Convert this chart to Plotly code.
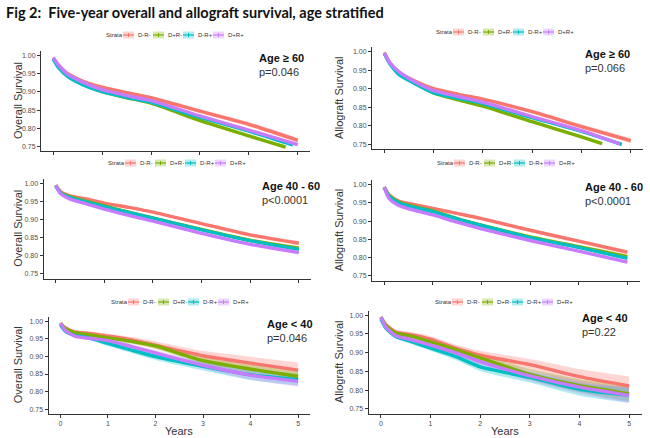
import plotly.graph_objects as go

# ---------------- data ----------------
STRATA = ["D-R-", "D+R-", "D-R+", "D+R+"]
COLORS = ["#F8766D", "#7CAE00", "#00BFC4", "#C77CFF"]
FILLS = ["rgba(248,118,109,0.30)", "rgba(124,174,0,0.30)",
         "rgba(0,191,196,0.30)", "rgba(199,124,255,0.30)"]
TIMES = [0, 0.1, 0.3, 0.6, 1, 1.5, 2, 3, 4, 5]
Y_TICKS = [0.75, 0.80, 0.85, 0.90, 0.95, 1.00]
X_TICKS = [0, 1, 2, 3, 4, 5]

# Overall survival, age >= 60
OS_60 = {
    "D-R-": [0.993, 0.975, 0.950, 0.930, 0.913, 0.898, 0.884, 0.847, 0.811, 0.767],
    "D+R-": [0.993, 0.972, 0.945, 0.921, 0.901, 0.884, 0.869, 0.821, 0.779, 0.748],
    "D-R+": [0.990, 0.968, 0.942, 0.920, 0.901, 0.885, 0.871, 0.830, 0.792, 0.754],
    "D+R+": [0.995, 0.975, 0.948, 0.927, 0.906, 0.890, 0.876, 0.834, 0.795, 0.755],
}
OS_60_END = {"D+R-": 4.75, "D-R+": 4.9}
OS_60_CI = {
    "D-R-": [0, 0.002, 0.002, 0.003, 0.003, 0.004, 0.004, 0.005, 0.006, 0.007],
    "D+R-": [0, 0.002, 0.002, 0.002, 0.003, 0.003, 0.003, 0.004, 0.004, 0.005],
    "D-R+": [0, 0.002, 0.002, 0.002, 0.003, 0.003, 0.003, 0.004, 0.004, 0.005],
    "D+R+": [0, 0.001, 0.002, 0.002, 0.002, 0.002, 0.003, 0.003, 0.004, 0.004],
}

# Allograft survival, age >= 60
AS_60 = {
    "D-R-": [0.997, 0.972, 0.945, 0.922, 0.900, 0.885, 0.872, 0.838, 0.798, 0.760],
    "D+R-": [0.997, 0.971, 0.943, 0.918, 0.889, 0.870, 0.853, 0.811, 0.770, 0.752],
    "D-R+": [0.995, 0.970, 0.938, 0.915, 0.889, 0.874, 0.860, 0.822, 0.785, 0.750],
    "D+R+": [0.997, 0.972, 0.945, 0.920, 0.895, 0.879, 0.864, 0.825, 0.787, 0.751],
}
AS_60_END = {"D+R-": 4.42, "D-R+": 4.82, "D+R+": 4.78}
AS_60_CI = OS_60_CI

# Overall survival, age 40 - 60
OS_40 = {
    "D-R-": [0.995, 0.978, 0.966, 0.958, 0.946, 0.934, 0.921, 0.889, 0.858, 0.835],
    "D+R-": [0.995, 0.975, 0.963, 0.952, 0.938, 0.921, 0.905, 0.873, 0.843, 0.821],
    "D-R+": [0.994, 0.974, 0.961, 0.950, 0.936, 0.920, 0.904, 0.872, 0.842, 0.818],
    "D+R+": [0.995, 0.972, 0.957, 0.945, 0.929, 0.912, 0.896, 0.862, 0.832, 0.809],
}
OS_40_CI = {
    "D-R-": [0, 0.002, 0.002, 0.002, 0.003, 0.003, 0.003, 0.004, 0.005, 0.006],
    "D+R-": [0, 0.002, 0.002, 0.002, 0.003, 0.003, 0.003, 0.004, 0.005, 0.006],
    "D-R+": [0, 0.001, 0.002, 0.002, 0.002, 0.002, 0.003, 0.003, 0.004, 0.004],
    "D+R+": [0, 0.001, 0.001, 0.002, 0.002, 0.002, 0.002, 0.003, 0.003, 0.004],
}

# Allograft survival, age 40 - 60
AS_40 = {
    "D-R-": [0.993, 0.972, 0.955, 0.946, 0.935, 0.921, 0.907, 0.875, 0.845, 0.815],
    "D+R-": [0.993, 0.970, 0.952, 0.940, 0.928, 0.907, 0.889, 0.857, 0.830, 0.803],
    "D-R+": [0.992, 0.968, 0.950, 0.938, 0.926, 0.906, 0.888, 0.855, 0.828, 0.798],
    "D+R+": [0.993, 0.962, 0.943, 0.930, 0.917, 0.897, 0.879, 0.847, 0.818, 0.788],
}
AS_40_CI = OS_40_CI

# Overall survival, age < 40
OS_U40 = {
    "D-R-": [0.995, 0.982, 0.970, 0.966, 0.958, 0.947, 0.932, 0.902, 0.881, 0.861],
    "D+R-": [0.995, 0.980, 0.968, 0.962, 0.953, 0.943, 0.930, 0.888, 0.864, 0.843],
    "D-R+": [0.990, 0.972, 0.960, 0.953, 0.937, 0.918, 0.900, 0.872, 0.848, 0.834],
    "D+R+": [0.995, 0.975, 0.958, 0.952, 0.945, 0.928, 0.910, 0.875, 0.847, 0.829],
}
OS_U40_CI = {
    "D-R-": [0, 0.004, 0.005, 0.006, 0.007, 0.009, 0.011, 0.014, 0.018, 0.022],
    "D+R-": [0, 0.003, 0.004, 0.005, 0.006, 0.007, 0.008, 0.010, 0.013, 0.015],
    "D-R+": [0, 0.004, 0.005, 0.006, 0.007, 0.008, 0.010, 0.012, 0.015, 0.017],
    "D+R+": [0, 0.003, 0.004, 0.005, 0.006, 0.007, 0.008, 0.010, 0.013, 0.015],
}

# Allograft survival, age < 40
AS_U40 = {
    "D-R-": [0.995, 0.975, 0.955, 0.948, 0.936, 0.912, 0.893, 0.868, 0.836, 0.811],
    "D+R-": [0.995, 0.972, 0.952, 0.944, 0.929, 0.908, 0.886, 0.842, 0.812, 0.790],
    "D-R+": [0.990, 0.965, 0.943, 0.930, 0.912, 0.890, 0.862, 0.834, 0.802, 0.786],
    "D+R+": [0.995, 0.968, 0.945, 0.935, 0.920, 0.900, 0.876, 0.838, 0.808, 0.786],
}
AS_U40_CI = {
    "D-R-": [0, 0.005, 0.006, 0.007, 0.008, 0.010, 0.012, 0.015, 0.020, 0.025],
    "D+R-": [0, 0.004, 0.005, 0.006, 0.007, 0.009, 0.011, 0.014, 0.017, 0.020],
    "D-R+": [0, 0.004, 0.005, 0.006, 0.007, 0.009, 0.011, 0.014, 0.017, 0.020],
    "D+R+": [0, 0.004, 0.005, 0.006, 0.007, 0.009, 0.011, 0.014, 0.017, 0.020],
}

PANELS = [
    dict(data=OS_60, ci=OS_60_CI, end=OS_60_END, ytitle="Overall Survival", age="Age ≥ 60", p="p=0.046"),
    dict(data=AS_60, ci=AS_60_CI, end=AS_60_END, ytitle="Allograft Survival", age="Age ≥ 60", p="p=0.066"),
    dict(data=OS_40, ci=OS_40_CI, end={}, ytitle="Overall Survival", age="Age 40 - 60", p="p<0.0001"),
    dict(data=AS_40, ci=AS_40_CI, end={}, ytitle="Allograft Survival", age="Age 40 - 60", p="p<0.0001"),
    dict(data=OS_U40, ci=OS_U40_CI, end={}, ytitle="Overall Survival", age="Age < 40", p="p=0.046"),
    dict(data=AS_U40, ci=AS_U40_CI, end={}, ytitle="Allograft Survival", age="Age < 40", p="p=0.22"),
]

# ---------------- layout geometry (pixels) ----------------
W, H = 650, 438
# (x0, x1, ytop, ybottom) plot area in pixels
BOXES = [
    (41, 310, 51, 151),
    (372, 643, 47, 149),
    (43.5, 311, 179, 278.5),
    (372, 639.5, 180, 280.5),
    (48.5, 310, 317, 413.5),
    (368.5, 641.5, 310.5, 413.5),
]
# legend: left edge of "Strata" text and vertical centre (pixels)
LEGEND_POS = [(104, 35), (434, 32), (106, 163), (435, 163), (109, 302), (433, 302)]
YTITLE_X = [18, 339, 18, 339, 18, 339]

def fx(px):
    return px / W

def fy(py):
    return 1 - py / H

fig = go.Figure()
annotations = []
shapes = []
layout = dict(
    width=W, height=H, margin=dict(l=0, r=0, t=0, b=0),
    paper_bgcolor="white", plot_bgcolor="white",
    font=dict(family="Liberation Sans, Arial, sans-serif", color="#4D4D4D"),
    showlegend=False,
)

for i, pan in enumerate(PANELS):
    n = i + 1
    xs = "x" if n == 1 else f"x{n}"
    ys = "y" if n == 1 else f"y{n}"
    for k, s in enumerate(STRATA):
        vals = pan["data"][s]
        ci = pan["ci"][s]
        t = list(TIMES)
        if s in pan["end"]:
            t[-1] = pan["end"][s]
        lo = [v - c for v, c in zip(vals, ci)]
        hi = [v + c for v, c in zip(vals, ci)]
        fig.add_trace(go.Scatter(x=t, y=lo, mode="lines",
                                 line=dict(width=0, color=COLORS[k], shape="spline", smoothing=0.6),
                                 xaxis=xs, yaxis=ys, hoverinfo="skip"))
        fig.add_trace(go.Scatter(x=t, y=hi, mode="lines",
                                 line=dict(width=0, color=COLORS[k], shape="spline", smoothing=0.6),
                                 fill="tonexty", fillcolor=FILLS[k],
                                 xaxis=xs, yaxis=ys, hoverinfo="skip"))
    for k, s in enumerate(STRATA):
        vals = pan["data"][s]
        t = list(TIMES)
        if s in pan["end"]:
            t[-1] = pan["end"][s]
        fig.add_trace(go.Scatter(
            x=t, y=vals, mode="lines", name=s,
            line=dict(width=3.4, color=COLORS[k], shape="spline", smoothing=0.6),
            xaxis=xs, yaxis=ys))

    x0, x1, yt, yb = BOXES[i]
    bottom = i >= 4
    axis_common = dict(showline=True, linecolor="#333333", linewidth=1, ticks="outside",
                       ticklen=3, tickcolor="#333333", tickwidth=1, showgrid=False,
                       zeroline=False, tickfont=dict(size=7, color="#4D4D4D"))
    layout["xaxis" if n == 1 else f"xaxis{n}"] = dict(
        domain=[fx(x0), fx(x1)], range=[-0.25, 5.25], anchor=ys,
        tickvals=X_TICKS, showticklabels=bottom, **axis_common)
    layout["yaxis" if n == 1 else f"yaxis{n}"] = dict(
        domain=[fy(yb), fy(yt)], range=[0.7375, 1.0125], anchor=xs,
        tickvals=Y_TICKS, tickformat=".2f", **axis_common)

    # legend (Strata key) drawn above each panel
    lx, ly = LEGEND_POS[i]
    annotations.append(dict(text="Strata", x=fx(lx), y=fy(ly), xref="paper", yref="paper",
                            showarrow=False, xanchor="left", yanchor="middle",
                            font=dict(size=6, color="#333333")))
    for k, s in enumerate(STRATA):
        sx = lx + 19 + 30 * k
        shapes.append(dict(type="rect", xref="paper", yref="paper",
                           x0=fx(sx), x1=fx(sx + 11), y0=fy(ly + 3.5), y1=fy(ly - 3.5),
                           fillcolor=FILLS[k], line=dict(width=0)))
        shapes.append(dict(type="line", xref="paper", yref="paper",
                           x0=fx(sx), x1=fx(sx + 11), y0=fy(ly), y1=fy(ly),
                           line=dict(color=COLORS[k], width=1.2)))
        shapes.append(dict(type="line", xref="paper", yref="paper",
                           x0=fx(sx + 5.5), x1=fx(sx + 5.5), y0=fy(ly + 2), y1=fy(ly - 2),
                           line=dict(color=COLORS[k], width=1)))
        annotations.append(dict(text=s, x=fx(sx + 13), y=fy(ly), xref="paper", yref="paper",
                                showarrow=False, xanchor="left", yanchor="middle",
                                font=dict(size=6, color="#333333")))

    # y title
    annotations.append(dict(
        text=pan["ytitle"], x=fx(YTITLE_X[i]), y=fy((yt + yb) / 2), xref="paper", yref="paper",
        textangle=-90, showarrow=False, font=dict(size=11, color="#333333"),
        xanchor="center", yanchor="middle"))
    # age label and p value
    ax = x0 + 216 if i % 2 == 0 else x0 + 211
    annotations.append(dict(
        text="<b>" + pan["age"] + "</b>", x=fx(ax), y=fy(yt + 7), xref="paper", yref="paper",
        showarrow=False, font=dict(size=11, color="#111111"), xanchor="left", yanchor="middle"))
    annotations.append(dict(
        text=pan["p"], x=fx(ax), y=fy(yt + 21), xref="paper", yref="paper",
        showarrow=False, font=dict(size=11, color="#333333"), xanchor="left", yanchor="middle"))
    if bottom:
        annotations.append(dict(
            text="Years", x=fx((x0 + x1) / 2), y=fy(431), xref="paper", yref="paper",
            showarrow=False, font=dict(size=11, color="#333333"), xanchor="center", yanchor="middle"))

annotations.append(dict(
    text="<b>Fig 2:  Five-year overall and allograft survival, age stratified</b>",
    x=fx(4), y=fy(12), xref="paper", yref="paper", showarrow=False,
    font=dict(family="Lato, sans-serif", size=14.5, color="#111111"), xanchor="left", yanchor="middle"))

layout["annotations"] = annotations
layout["shapes"] = shapes
fig.update_layout(**layout)
fig.write_html("out.html")
